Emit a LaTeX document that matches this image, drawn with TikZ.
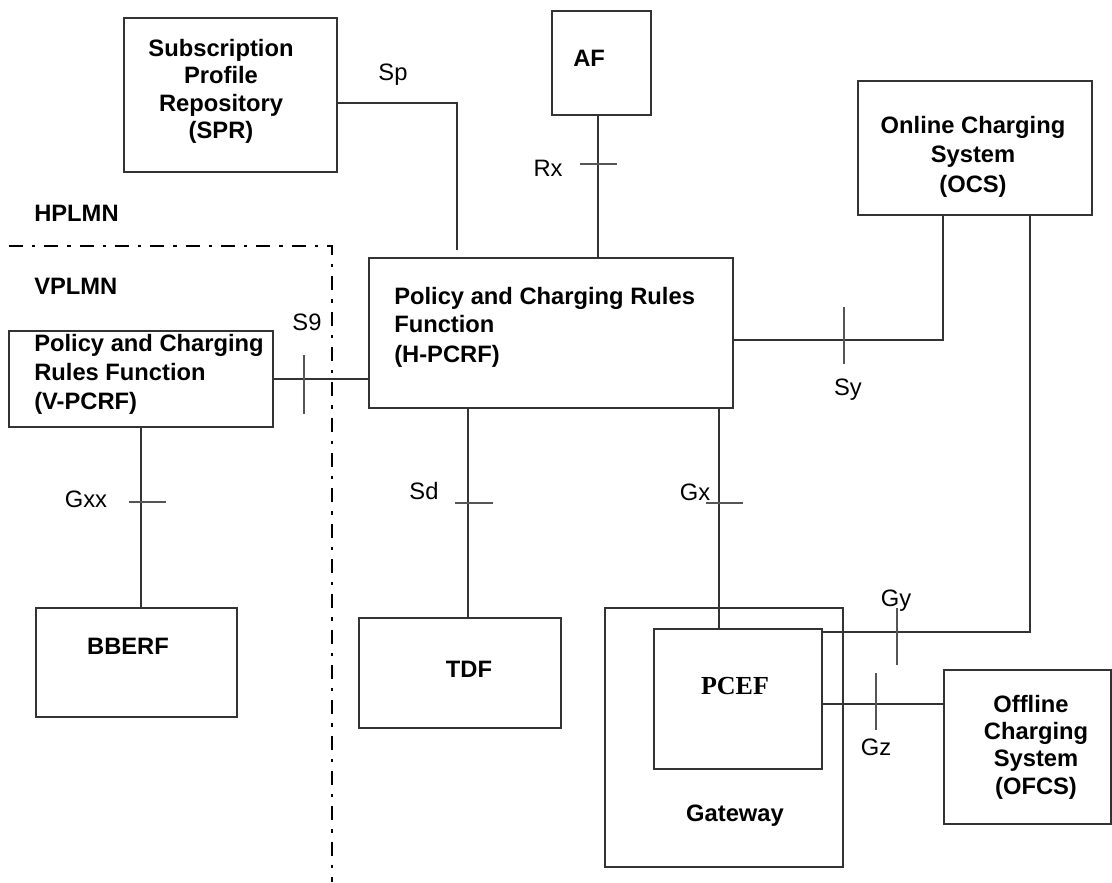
\documentclass[tikz,border=0pt]{standalone}
\usepackage{fontspec}
\setmainfont{Liberation Sans}
\newfontfamily\serifbold{Liberation Serif}
\definecolor{ln}{HTML}{333333}
\definecolor{tk}{HTML}{555555}
\begin{document}
\begin{tikzpicture}[x=0.75pt,y=-0.75pt,
  boxst/.style={draw=ln,line width=1.5pt,rectangle,inner sep=0pt,outer sep=0pt},
  btxt/.style={font=\fontsize{17.8}{21}\selectfont\bfseries,inner sep=0pt,anchor=base},
  ltxt/.style={font=\fontsize{17.8}{21}\selectfont,inner sep=0pt,anchor=base},
  conn/.style={draw=ln,line width=1.1pt},
  tick/.style={draw=tk,line width=0.8pt},
  plmn/.style={draw=black,line width=2.2pt,dash pattern=on 10.5pt off 6.8pt on 2.4pt off 6.8pt}]
\useasboundingbox (0,0) rectangle (1112,882);
\fill[white] (0,0) rectangle (1112,882);

% boxes
\node[boxst,minimum width=159.75pt,minimum height=115.5pt] (SPR) at (230.5,95) {};
\node[boxst,minimum width=74.25pt,minimum height=78pt] (AF) at (601.5,63) {};
\node[boxst,minimum width=175.5pt,minimum height=100.5pt] (OCS) at (975,148) {};
\node[boxst,minimum width=273pt,minimum height=112.5pt] (HPCRF) at (551,333) {};
\node[boxst,minimum width=198pt,minimum height=72pt] (VPCRF) at (141,379) {};
\node[boxst,minimum width=150.75pt,minimum height=81.75pt] (BBERF) at (136.5,662.5) {};
\node[boxst,minimum width=151.5pt,minimum height=82.5pt] (TDF) at (460,673) {};
\node[boxst,minimum width=178.5pt,minimum height=194.25pt] (GW) at (724,737.5) {};
\node[boxst,minimum width=126pt,minimum height=105pt] (PCEF) at (738,699) {};
\node[boxst,minimum width=125.25pt,minimum height=115.5pt] (OFCS) at (1027.5,747) {};

% box texts
\node[btxt] (sprt1) at (221,56) {Subscription};
\node[btxt] (sprt2) at (221,83.5) {Profile};
\node[btxt] (sprt3) at (221,111) {Repository};
\node[btxt] (sprt4) at (221,138.5) {(SPR)};
\node[btxt,anchor=base west] (aft) at (573,66) {AF};
\node[btxt] (ocst1) at (973,133) {Online Charging};
\node[btxt] (ocst2) at (973,162) {System};
\node[btxt] (ocst3) at (973,192) {(OCS)};
\node[btxt,anchor=base west] (hpt1) at (394,304) {Policy and Charging Rules};
\node[btxt,anchor=base west] (hpt2) at (394,332) {Function};
\node[btxt,anchor=base west] (hpt3) at (394,362) {(H-PCRF)};
\node[btxt,anchor=base west] (vpt1) at (34,351) {Policy and Charging};
\node[btxt,anchor=base west] (vpt2) at (34,380) {Rules Function};
\node[btxt,anchor=base west] (vpt3) at (34,409) {(V-PCRF)};
\node[btxt] (bbt) at (128,654) {BBERF};
\node[btxt] (tdft) at (469,677) {TDF};
\node[btxt,font=\fontsize{19.5}{22}\selectfont\serifbold\bfseries] (pceft) at (735,694) {PCEF};
\node[btxt] (gwt) at (735,821.5) {Gateway};
\node[btxt] (oft1) at (1031,712.5) {Offline};
\node[btxt] (oft2) at (1036,739.5) {Charging};
\node[btxt] (oft3) at (1036,766.5) {System};
\node[btxt] (oft4) at (1036,794) {(OFCS)};
\node[btxt,anchor=base west] (hpl) at (34,221.5) {HPLMN};
\node[btxt,anchor=base west] (vpl) at (34,294.5) {VPLMN};

% network boundary
\coordinate (bd1) at (9,246);
\coordinate (bd2) at (332,246);
\coordinate (bd3) at (332,882);
\draw[plmn] (bd1) -- (bd2) -- (bd3);

% connectors
\coordinate (spend) at (457,250);
\draw[conn] (SPR.east |- 0,103) -| (spend);
\draw[conn] (AF.south -| 598,0) -- (HPCRF.north -| 598,0);
\draw[conn] (HPCRF.east |- 0,340) -| (OCS.south -| 943,0);
\draw[conn] (VPCRF.east |- 0,379) -- (HPCRF.west |- 0,379);
\draw[conn] (VPCRF.south -| 141,0) -- (BBERF.north -| 141,0);
\draw[conn] (HPCRF.south -| 468,0) -- (TDF.north -| 468,0);
\draw[conn] (HPCRF.south -| 719,0) -- (PCEF.north -| 719,0);
\draw[conn] (PCEF.east |- 0,632) -| (OCS.south -| 1030,0);
\draw[conn] (PCEF.east |- 0,704) -- (OFCS.west |- 0,704);

% ticks
\draw[tick] (580,164) -- (617,164);
\draw[tick] (844,307) -- (844,364);
\draw[tick] (304,355) -- (304,414);
\draw[tick] (129,502) -- (166,502);
\draw[tick] (455,503) -- (493,503);
\draw[tick] (706,503) -- (743,503);
\draw[tick] (897,608) -- (897,665);
\draw[tick] (876,673) -- (876,730);

% interface labels
\node[ltxt] (lsp) at (393,80) {Sp};
\node[ltxt] (lrx) at (548,176) {Rx};
\node[ltxt] (lsy) at (848,395) {Sy};
\node[ltxt] (ls9) at (307,330.5) {S9};
\node[ltxt] (lgxx) at (86,507) {Gxx};
\node[ltxt] (lsd) at (424,499) {Sd};
\node[ltxt] (lgx) at (695,500) {Gx};
\node[ltxt] (lgy) at (896,606.5) {Gy};
\node[ltxt] (lgz) at (876,755) {Gz};
\end{tikzpicture}
\end{document}
